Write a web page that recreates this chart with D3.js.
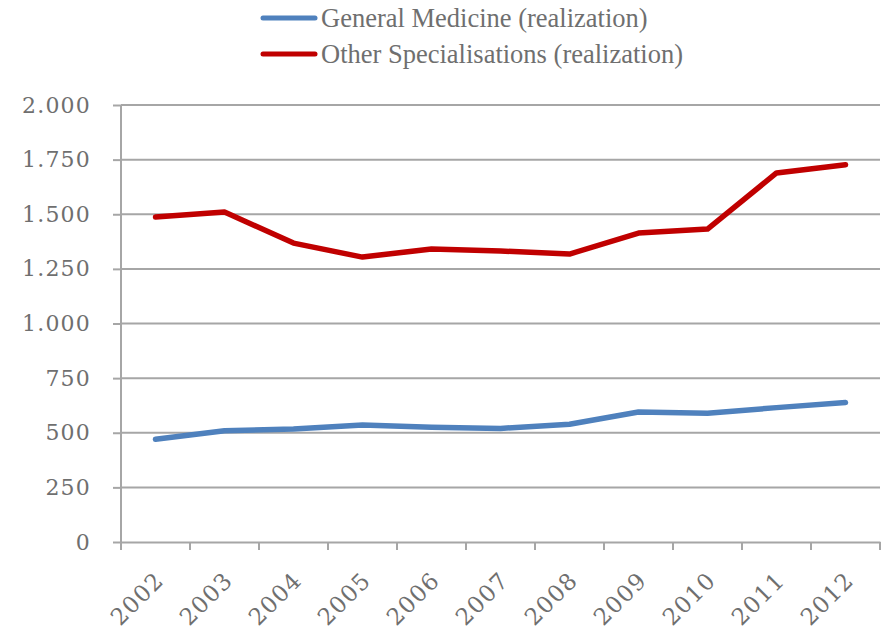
<!DOCTYPE html>
<html><head><meta charset="utf-8">
<script src="https://cdn.jsdelivr.net/npm/d3@7"></script>
<style>body{margin:0;background:#fff}</style>
</head><body>
<svg id="chart" width="883" height="635"></svg>
<script>
const years = ["2002","2003","2004","2005","2006","2007","2008","2009","2010","2011","2012"];
const generalMedicine = [470, 509, 517, 535, 525, 520, 539, 595, 589, 615, 638];
const otherSpecialisations = [1487, 1510, 1368, 1304, 1341, 1332, 1318, 1414, 1432, 1689, 1727];
const yTicks = [0, 250, 500, 750, 1000, 1250, 1500, 1750, 2000];
const seriesNames = ["General Medicine (realization)", "Other Specialisations (realization)"];
const seriesColors = ["#4f81bd", "#c00000"];

const svg = d3.select("#chart");
const mLeft = 121, mRight = 880, mTop = 105, mBottom = 542;
const x = d3.scaleBand().domain(years).range([mLeft, mRight]);
const y = d3.scaleLinear().domain([0, 2000]).range([mBottom, mTop]);
const fmt = v => d3.format(",")(v).replace(/,/g, ".");
const grey = "#a6a6a6", textCol = "#6f6f6f";

// gridlines
svg.append("g").selectAll("line").data(yTicks.filter(d => d > 0)).join("line")
  .attr("x1", mLeft).attr("x2", mRight).attr("y1", d => y(d)).attr("y2", d => y(d))
  .attr("stroke", grey).attr("stroke-width", 2);

// y axis
const ya = svg.append("g").attr("transform", `translate(${mLeft},0)`)
  .call(d3.axisLeft(y).tickValues(yTicks).tickFormat(fmt).tickSize(8).tickPadding(22));
ya.selectAll("path,line").attr("stroke", grey).attr("stroke-width", 2);
ya.select(".domain").attr("d", `M0,${mBottom}V${mTop}`);
ya.selectAll("text").attr("font-family", "DejaVu Serif").attr("font-size", 22)
  .attr("letter-spacing", "1.2px").attr("fill", textCol);

// x axis
const xa = svg.append("g").attr("transform", `translate(0,${mBottom})`)
  .call(d3.axisBottom(x).tickSize(0).tickFormat(""));
xa.select(".domain").attr("stroke", grey).attr("stroke-width", 2);
const edges = years.map(d => x(d)).concat([mRight]);
xa.selectAll(".edge").data(edges).join("line").attr("class", "edge")
  .attr("x1", d => d).attr("x2", d => d).attr("y1", 0).attr("y2", 8)
  .attr("stroke", grey).attr("stroke-width", 2);
xa.selectAll(".lbl").data(years).join("text").attr("class", "lbl")
  .attr("transform", d => `translate(${x(d) + x.bandwidth()/2 + 4},${34}) rotate(-45)`)
  .attr("text-anchor", "end").attr("dy", "0.35em")
  .attr("font-family", "DejaVu Serif").attr("font-size", 23).attr("letter-spacing", "1.3px")
  .attr("fill", textCol).text(d => d);

// lines
const line = d3.line().x((d, i) => x(years[i]) + x.bandwidth()/2).y(d => y(d));
[generalMedicine, otherSpecialisations].forEach((s, i) => {
  svg.append("path").datum(s).attr("d", line).attr("fill", "none")
    .attr("stroke", seriesColors[i]).attr("stroke-width", 5.5)
    .attr("stroke-linecap", "round").attr("stroke-linejoin", "round");
});

// legend
const lg = svg.append("g");
seriesNames.forEach((n, i) => {
  const yy = 18 + i * 36;
  lg.append("line").attr("x1", 263).attr("x2", 315).attr("y1", yy).attr("y2", yy)
    .attr("stroke", seriesColors[i]).attr("stroke-width", 5).attr("stroke-linecap", "round");
  lg.append("text").attr("x", 321).attr("y", yy).attr("dy", "0.35em")
    .attr("font-family", "Liberation Serif").attr("font-size", 26.5).attr("fill", textCol).text(n);
});
</script>
</body></html>
